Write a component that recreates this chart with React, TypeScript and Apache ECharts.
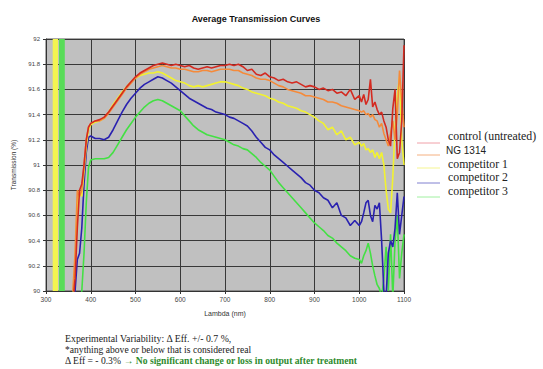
import React, { useEffect, useRef } from "react";
import * as echarts from "echarts";

const wavelengths = [360,365,370,375,380,385,390,395,400,410,420,430,440,450,460,470,480,490,500,510,520,530,540,550,560,570,580,590,600,610,620,630,640,650,660,670,680,690,700,710,720,730,740,750,760,770,780,790,800,810,820,830,840,850,860,870,880,890,900,910,920,930,940,950,960,970,980,990,1000,1005,1010,1015,1020,1025,1030,1035,1040,1045,1050,1055,1060,1065,1070,1075,1080,1085,1090,1095,1100];

const control = [89.9,90.1,90.5,90.8,90.85,91.0,91.2,91.3,91.33,91.35,91.36,91.38,91.42,91.47,91.52,91.57,91.62,91.66,91.70,91.73,91.75,91.77,91.79,91.80,91.81,91.80,91.79,91.80,91.79,91.78,91.79,91.77,91.76,91.77,91.78,91.77,91.78,91.79,91.79,91.80,91.79,91.80,91.78,91.75,91.76,91.72,91.71,91.73,91.70,91.69,91.67,91.68,91.66,91.65,91.66,91.64,91.62,91.63,91.62,91.60,91.61,91.59,91.60,91.57,91.58,91.55,91.60,91.52,91.55,91.50,91.56,91.48,91.52,91.68,91.46,91.50,91.44,91.40,91.42,91.35,91.30,91.20,91.15,91.45,91.60,91.05,91.10,91.35,91.95];

const ng1314 = [90.0,90.3,90.8,90.75,90.8,91.0,91.2,91.3,91.33,91.35,91.35,91.37,91.41,91.46,91.51,91.56,91.61,91.65,91.69,91.72,91.74,91.76,91.77,91.78,91.79,91.78,91.77,91.77,91.76,91.76,91.75,91.74,91.74,91.75,91.75,91.74,91.75,91.76,91.76,91.76,91.75,91.75,91.73,91.72,91.71,91.69,91.68,91.68,91.67,91.65,91.63,91.62,91.60,91.59,91.58,91.57,91.55,91.55,91.54,91.53,91.52,91.50,91.50,91.49,91.47,91.46,91.45,91.44,91.43,91.42,91.43,91.40,91.41,91.38,91.40,91.36,91.35,91.30,91.33,91.25,91.20,91.15,91.25,91.35,91.20,91.40,91.75,91.50,91.30];

const competitor1 = [89.95,90.2,90.7,90.8,90.75,90.95,91.15,91.28,91.32,91.34,91.35,91.37,91.42,91.48,91.53,91.58,91.62,91.66,91.69,91.71,91.72,91.73,91.73,91.74,91.73,91.71,91.69,91.67,91.66,91.65,91.63,91.62,91.63,91.62,91.63,91.64,91.65,91.66,91.66,91.65,91.64,91.63,91.61,91.60,91.58,91.57,91.56,91.55,91.53,91.52,91.50,91.49,91.47,91.46,91.45,91.43,91.42,91.40,91.38,91.35,91.33,91.28,91.30,91.24,91.27,91.20,91.22,91.16,91.18,91.15,91.17,91.12,91.13,91.10,91.12,91.06,91.10,91.05,91.10,91.00,90.80,90.65,90.62,90.90,91.30,91.55,91.70,91.20,91.00];

const competitor2 = [89.8,90.0,90.25,90.3,90.5,90.85,91.1,91.22,91.23,91.21,91.21,91.20,91.22,91.28,91.35,91.42,91.48,91.53,91.57,91.61,91.64,91.66,91.68,91.70,91.69,91.67,91.65,91.62,91.59,91.56,91.53,91.51,91.49,91.47,91.45,91.44,91.42,91.41,91.40,91.38,91.37,91.35,91.33,91.31,91.27,91.22,91.18,91.14,91.12,91.08,91.05,91.02,90.99,90.96,90.93,90.90,90.86,90.84,90.80,90.78,90.74,90.72,90.66,90.70,90.60,90.58,90.52,90.56,90.52,90.55,90.62,90.70,90.72,90.60,90.55,90.68,90.65,90.70,90.40,90.00,89.95,90.30,90.40,90.35,90.50,90.78,90.45,90.60,90.75];

const competitor3 = [89.5,89.6,89.7,89.85,90.0,90.3,90.7,90.98,91.04,91.05,91.05,91.05,91.06,91.10,91.16,91.22,91.28,91.33,91.38,91.42,91.46,91.49,91.51,91.52,91.51,91.49,91.47,91.45,91.43,91.39,91.35,91.31,91.28,91.26,91.24,91.23,91.22,91.21,91.20,91.18,91.16,91.15,91.13,91.12,91.09,91.06,91.02,90.99,90.96,90.91,90.86,90.82,90.78,90.74,90.70,90.66,90.62,90.58,90.54,90.51,90.48,90.44,90.42,90.38,90.35,90.32,90.28,90.26,90.25,90.22,90.28,90.32,90.38,90.30,90.20,90.12,90.05,90.02,89.95,90.10,90.35,90.00,90.45,89.95,90.40,90.60,90.10,90.30,90.45];

const seriesNames = ["control (untreated)", "NG 1314", "competitor 1", "competitor 2", "competitor 3"];
const seriesValues = [control, ng1314, competitor1, competitor2, competitor3];
const seriesColors = ["#d42a20", "#f58a3a", "#f2f230", "#2a22b0", "#44e044"];
const legendColors = ["#f0a0a8", "#f5b080", "#f5f590", "#8080d0", "#a0f0a0"];

const bands = [
  { from: 315, to: 327, color: "#f4f450" },
  { from: 329, to: 342, color: "#58dc58" },
];

const xTicks = { min: 300, max: 1100, interval: 100 };
const yTicks = { min: 90, max: 92, interval: 0.2 };

export default function App() {
  const ref = useRef<HTMLDivElement>(null);
  useEffect(() => {
    if (!ref.current) return;
    const chart = echarts.init(ref.current, undefined, { renderer: "svg" });
    const series: any[] = seriesValues.map((vals, i) => ({
      name: seriesNames[i],
      type: "line",
      data: wavelengths.map((w, j) => [w, vals[j]]),
      showSymbol: false,
      symbol: "none",
      lineStyle: { color: seriesColors[i], width: 1.6 },
      itemStyle: { color: seriesColors[i] },
      z: 10 - i,
      clip: true,
    }));
    series.push({
      type: "line",
      data: [],
      markArea: {
        silent: true,
        data: bands.map((b) => [
          { xAxis: b.from, itemStyle: { color: b.color } },
          { xAxis: b.to },
        ]),
      },
      z: 1,
    });

    const serif = "'Times New Roman', 'Liberation Serif', serif";
    const legendGraphics: any[] = [];
    const textY = [136, 150, 164, 177, 191];
    const lineY = [143, 155, 168, 183, 197];
    seriesNames.forEach((n, i) => {
      legendGraphics.push({
        type: "line",
        shape: { x1: 417, y1: lineY[i], x2: 440, y2: lineY[i] },
        style: { stroke: legendColors[i], lineWidth: 1 },
      });
      legendGraphics.push({
        type: "text",
        x: i === 1 ? 446 : 448,
        y: textY[i],
        style: {
          text: n,
          fontSize: i === 1 ? 10 : 11.8,
          fontFamily: i === 1 ? "'Liberation Sans', Arial, sans-serif" : serif,
          fill: "#222",
          verticalAlign: "middle",
        },
      });
    });

    chart.setOption({
      animation: false,
      backgroundColor: "#ffffff",
      title: {
        text: "Average Transmission Curves",
        left: 251,
        top: 9,
        textAlign: "center",
        textStyle: { fontSize: 9, fontWeight: "bold", fontFamily: "'Liberation Sans', Arial, sans-serif", color: "#111" },
      },
      grid: { left: 46, right: 139, top: 39, bottom: 78, show: true, backgroundColor: "#c0c0c0", borderColor: "#555", borderWidth: 1 },
      xAxis: {
        type: "value",
        min: xTicks.min,
        max: xTicks.max,
        interval: xTicks.interval,
        name: "Lambda (nm)",
        nameLocation: "middle",
        nameGap: 19,
        nameTextStyle: { fontSize: 7, color: "#333", fontFamily: "Liberation Sans" },
        axisLine: { lineStyle: { color: "#333" } },
        axisTick: { show: true, length: 3, lineStyle: { color: "#333" } },
        axisLabel: { fontSize: 6.5, color: "#444", margin: 5, fontFamily: "Liberation Sans", formatter: (v: number) => String(v) },
        splitLine: { show: true, lineStyle: { color: "#383838", width: 1 } },
      },
      yAxis: {
        type: "value",
        min: yTicks.min,
        max: yTicks.max,
        interval: yTicks.interval,
        name: "Transmission (%)",
        nameLocation: "middle",
        nameGap: 28,
        nameTextStyle: { fontSize: 6.5, color: "#333", fontFamily: "Liberation Sans" },
        axisLine: { show: true, lineStyle: { color: "#333" } },
        axisTick: { show: true, length: 3, lineStyle: { color: "#333" } },
        axisLabel: {
          fontSize: 6,
          color: "#444",
          margin: 6,
          fontFamily: "Liberation Sans",
          formatter: (v: number) => String(Math.round(v * 10) / 10),
        },
        splitLine: { show: true, lineStyle: { color: "#383838", width: 1 } },
      },
      series,
      graphic: [
        ...legendGraphics,
        {
          type: "text",
          x: 65,
          y: 338,
          style: { text: "Experimental Variability: \u0394 Eff. +/- 0.7 %,", fontSize: 9.8, fontFamily: serif, fill: "#222", verticalAlign: "middle" },
        },
        {
          type: "text",
          x: 65,
          y: 349,
          style: { text: "*anything above or below that is considered real", fontSize: 9.6, fontFamily: serif, fill: "#222", verticalAlign: "middle" },
        },
        {
          type: "text",
          x: 65,
          y: 360,
          style: {
            text: "{a|\u0394 Eff = - 0.3% }{b|\u2192 No significant change or loss in output after treatment}",
            verticalAlign: "middle",
            rich: {
              a: { fontSize: 9.6, fontFamily: serif, fill: "#222", color: "#222" },
              b: { fontSize: 9.6, fontFamily: serif, fontWeight: "bold", fill: "#2e8b2e", color: "#2e8b2e" },
            },
          },
        },
      ],
    });
    return () => chart.dispose();
  }, []);
  return <div ref={ref} style={{ width: 543, height: 369, position: "absolute", left: 0, top: 0 }} />;
}
